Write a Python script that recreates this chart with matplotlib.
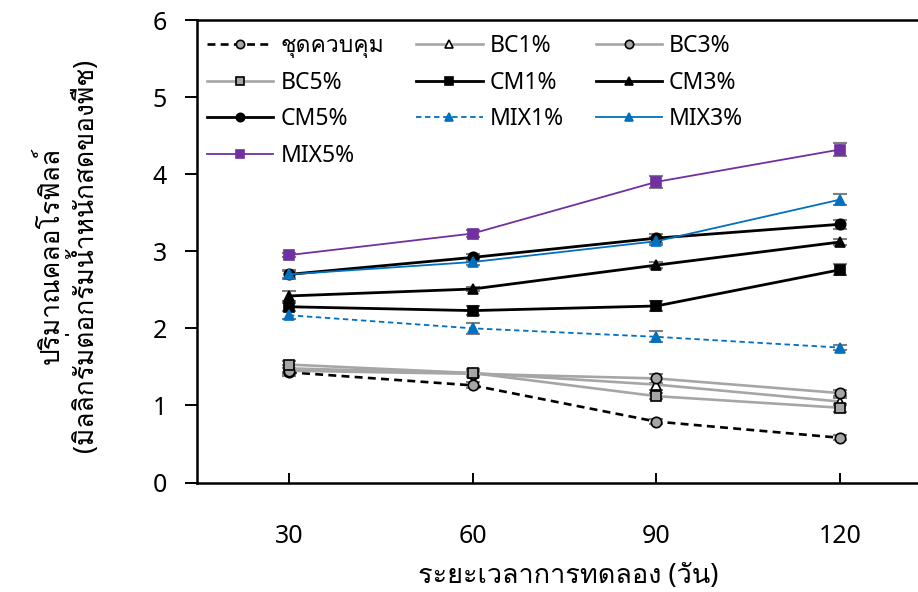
import matplotlib
matplotlib.use("Agg")
import matplotlib.pyplot as plt
from matplotlib import font_manager
from matplotlib.ft2font import FT2Font

# find an installed font that has Thai glyphs
thai_font = None
for f in font_manager.fontManager.ttflist:
    try:
        if FT2Font(f.fname).get_char_index(0x0E01):
            thai_font = f.name
            break
    except Exception:
        pass

families = ["Noto Sans"]
if thai_font:
    families.append(thai_font)
families.append("DejaVu Sans")
plt.rcParams["font.family"] = families

# data
days = ["30", "60", "90", "120"]
labels = ["ชุดควบคุม", "BC1%", "BC3%", "BC5%", "CM1%", "CM3%", "CM5%", "MIX1%", "MIX3%", "MIX5%"]
control = [1.43, 1.26, 0.79, 0.58]
bc1 = [1.48, 1.42, 1.27, 1.05]
bc3 = [1.45, 1.41, 1.35, 1.16]
bc5 = [1.53, 1.42, 1.12, 0.97]
cm1 = [2.28, 2.23, 2.29, 2.76]
cm3 = [2.42, 2.51, 2.82, 3.12]
cm5 = [2.70, 2.92, 3.17, 3.35]
mix1 = [2.17, 2.00, 1.89, 1.75]
mix3 = [2.70, 2.86, 3.13, 3.67]
mix5 = [2.95, 3.23, 3.90, 4.32]
series = [control, bc1, bc3, bc5, cm1, cm3, cm5, mix1, mix3, mix5]
errors = [
    [0.05, 0.04, 0.03, 0.03],
    [0.05, 0.04, 0.07, 0.05],
    [0.04, 0.04, 0.06, 0.04],
    [0.05, 0.05, 0.04, 0.05],
    [0.05, 0.06, 0.06, 0.07],
    [0.06, 0.03, 0.04, 0.04],
    [0.05, 0.04, 0.06, 0.06],
    [0.05, 0.07, 0.07, 0.03],
    [0.06, 0.04, 0.05, 0.07],
    [0.03, 0.04, 0.08, 0.08],
]

gray = "#a6a6a6"
blue = "#0070c0"
purple = "#7030a0"
# (line colour, linestyle, linewidth, marker, marker face, marker edge)
styles = [
    ("black", (0, (3, 2)), 1.9, "o", gray, "black"),
    (gray, "-", 1.9, "^", "white", "black"),
    (gray, "-", 1.9, "o", gray, "black"),
    (gray, "-", 1.9, "s", gray, "black"),
    ("black", "-", 2.0, "s", "black", "black"),
    ("black", "-", 2.0, "^", "black", "black"),
    ("black", "-", 2.0, "o", "black", "black"),
    (blue, (0, (3, 2)), 1.3, "^", blue, blue),
    (blue, "-", 1.3, "^", blue, blue),
    (purple, "-", 1.3, "s", purple, purple),
]

fig = plt.figure(figsize=(9.18, 5.92), dpi=100)
ax = fig.add_axes([197 / 918, 1 - 482.5 / 592, 735 / 918, 462.5 / 592])

x = list(range(len(days)))
handles = []
for vals, err, lab, st in zip(series, errors, labels, styles):
    ax.errorbar(x, vals, yerr=err, fmt="none", ecolor="#7f7f7f",
                elinewidth=1.5, capsize=5, capthick=1.5, zorder=2)
    h, = ax.plot(x, vals, color=st[0], linestyle=st[1], linewidth=st[2],
                 marker=st[3], markerfacecolor=st[4], markeredgecolor=st[5],
                 markeredgewidth=1.2, markersize=7.5, label=lab, zorder=3)
    handles.append(h)

ax.set_xlim(-0.5, 3.5)
ax.set_ylim(0, 6)
ax.set_xticks(x)
ax.set_xticklabels(days)
ax.set_yticks(range(7))

for s in ["top", "left", "bottom"]:
    ax.spines[s].set_linewidth(1.8)
ax.spines["right"].set_visible(False)
ax.tick_params(axis="y", direction="out", length=8.5, width=1.4, pad=13, labelsize=18)
ax.tick_params(axis="x", direction="in", length=7, width=1.4, pad=30, labelsize=18)

ax.set_ylabel("ปริมาณคลอโรฟิลล์\n(มิลลิกรัมต่อกรัมน้ำหนักสดของพืช)", fontsize=19,
              va="center", linespacing=1.1)
ax.yaxis.set_label_coords((69 - 197) / 735, 0.49)
fig.text(568 / 918, 1 - 576 / 592, "ระยะเวลาการทดลอง (วัน)", fontsize=19.5,
         ha="center", va="center")

# legend filled column by column, so reorder to read row by row
order = [0, 3, 6, 9, 1, 4, 7, 2, 5, 8]
ax.legend([handles[i] for i in order], [labels[i] for i in order],
          ncol=3, loc="upper left", bbox_to_anchor=(207 / 918, 1 - 34 / 592),
          bbox_transform=fig.transFigure, frameon=False, fontsize=16.5,
          handlelength=2.9, handletextpad=0.3, columnspacing=1.4,
          labelspacing=0.55, borderpad=0, borderaxespad=0, markerscale=0.8)

fig.savefig("out.png", dpi=100)
